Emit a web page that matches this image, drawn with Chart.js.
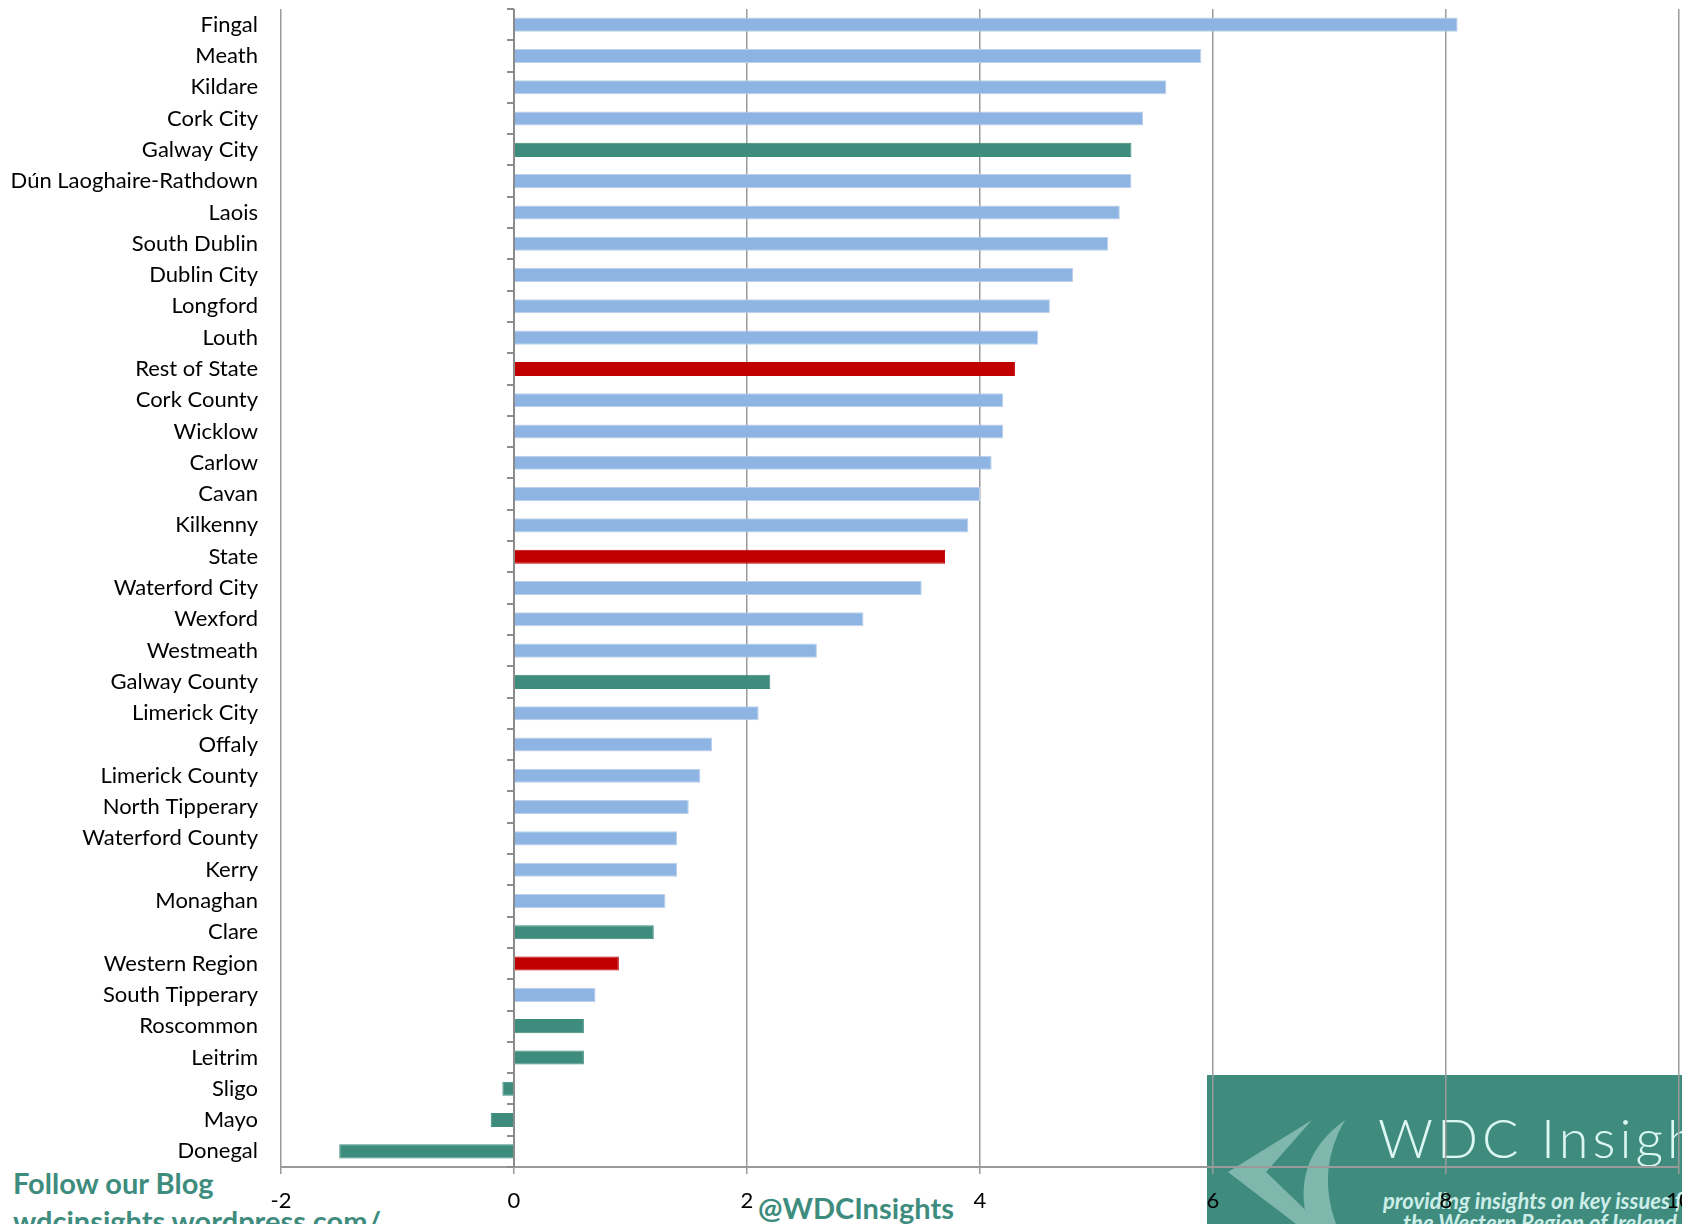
<!DOCTYPE html>
<html>
<head>
<meta charset="utf-8">
<script src="https://cdn.jsdelivr.net/npm/chart.js@4"></script>
<style>
  html, body { margin: 0; padding: 0; background: #fff; }
  #wrap { position: relative; width: 1682px; height: 1224px; overflow: hidden; font-family: Lato, sans-serif; }
  #logo { position: absolute; left: 0; top: 0; z-index: 0; }
  #chartBox { position: absolute; left: 0; top: 0; width: 1682px; height: 1224px; z-index: 1; }
  .txt { position: absolute; white-space: nowrap; }
  .teal { color: #3e8c7e; font-weight: bold; font-size: 29px; }
  .logoTitle { left: 1378px; top: 1105px; font-size: 54px; font-weight: 300; color: #dcf6f2; letter-spacing: 4px; z-index: 0; }
  .logoSub { font-size: 22px; font-style: italic; font-weight: bold; color: #cdeee8; z-index: 0; }
</style>
</head>
<body>
<div id="wrap">
  <svg id="logo" width="1682" height="1224">
    <rect x="1207" y="1075" width="475" height="149" fill="#3f8c7f"/>
    <path d="M1312,1120 L1228,1172 L1296,1224 L1320,1224 L1266,1172 Z" fill="#80b7ad"/>
    <path d="M1345,1120 Q1290,1160 1308,1224 L1336,1224 Q1316,1170 1345,1120 Z" fill="#80b7ad"/>
  </svg>
  <div class="txt logoTitle">WDC Insights</div>
  <div class="txt logoSub" style="left:1383px; top:1187px;">providing insights on key issues for</div>
  <div class="txt logoSub" style="left:1403px; top:1209px;">the Western Region of Ireland</div>
  <div id="chartBox"><canvas id="myChart"></canvas></div>
  <div class="txt teal" style="left:13px; top:1165px;">Follow our Blog</div>
  <div class="txt teal" style="left:13px; top:1203px;">wdcinsights.wordpress.com/</div>
  <div class="txt teal" style="left:758px; top:1190px;">@WDCInsights</div>
</div>
<script>
// counties / regions, top to bottom
const counties = ["Fingal", "Meath", "Kildare", "Cork City", "Galway City", "Dún Laoghaire-Rathdown",
  "Laois", "South Dublin", "Dublin City", "Longford", "Louth", "Rest of State", "Cork County",
  "Wicklow", "Carlow", "Cavan", "Kilkenny", "State", "Waterford City", "Wexford", "Westmeath",
  "Galway County", "Limerick City", "Offaly", "Limerick County", "North Tipperary",
  "Waterford County", "Kerry", "Monaghan", "Clare", "Western Region", "South Tipperary",
  "Roscommon", "Leitrim", "Sligo", "Mayo", "Donegal"]

// % change values
const change = [8.1, 5.9, 5.6, 5.4, 5.3, 5.3,
  5.2, 5.1, 4.8, 4.6, 4.5, 4.3, 4.2,
  4.2, 4.1, 4.0, 3.9, 3.7, 3.5, 3.0, 2.6,
  2.2, 2.1, 1.7, 1.6, 1.5,
  1.4, 1.4, 1.3, 1.2, 0.9, 0.7,
  0.6, 0.6, -0.1, -0.2, -1.5]

// groupings used for the bar colours
const westernCounties = ["Galway City", "Galway County", "Clare", "Roscommon", "Leitrim", "Sligo", "Mayo", "Donegal"]
const aggregates = ["Rest of State", "State", "Western Region"]

// x axis
const xMin = -2
const xMax = 10
const xStep = 2

const barColor = (name) => {
  if (aggregates.includes(name)) return "#c00000"
  if (westernCounties.includes(name)) return "#3e8c7e"
  return "#8eb4e3"
}
const edgeColor = (name) => {
  if (aggregates.includes(name)) return "#c00000"
  if (westernCounties.includes(name)) return "#3e8c7e"
  return "#bcd0ea"
}

// zero axis with small tick marks between categories
const zeroAxis = {
  id: "zeroAxis",
  afterDatasetsDraw(chart) {
    const ctx = chart.ctx
    const xs = chart.scales.x
    const ys = chart.scales.y
    const x0 = xs.getPixelForValue(0)
    ctx.save()
    ctx.strokeStyle = "#8c8c8c"
    ctx.lineWidth = 2
    ctx.beginPath()
    ctx.moveTo(x0, chart.chartArea.top)
    ctx.lineTo(x0, chart.chartArea.bottom)
    for (let i = 0; i <= counties.length; i++) {
      const y = Math.round(ys.getPixelForValue(i - 0.5))
      ctx.moveTo(x0, y)
      ctx.lineTo(x0 - 7, y)
    }
    ctx.stroke()
    ctx.restore()
  }
}

const noPad = (scale) => {
  scale.paddingLeft = 0
  scale.paddingRight = 0
  scale.paddingTop = 0
  scale.paddingBottom = 0
}

document.addEventListener("DOMContentLoaded", function(){
  const ctx = document.getElementById("myChart").getContext("2d")
  new Chart(ctx, {
    type: "bar",
    data: {
      labels: counties,
      datasets: [{
        data: change,
        backgroundColor: counties.map(barColor),
        borderColor: counties.map(edgeColor),
        borderWidth: 1,
        categoryPercentage: 1,
        barPercentage: 0.45
      }]
    },
    options: {
      indexAxis: "y",
      responsive: true,
      maintainAspectRatio: false,
      animation: false,
      layout: { padding: { left: 0, right: 3, top: 9, bottom: 0 } },
      plugins: { legend: { display: false }, tooltip: { enabled: false } },
      scales: {
        x: {
          min: xMin,
          max: xMax,
          ticks: { stepSize: xStep, color: "#000", padding: 14, font: { family: "Lato", size: 22 } },
          grid: { color: "#9a9a9a", lineWidth: 1.5, drawTicks: true, tickLength: 7 },
          border: { color: "#9a9a9a", width: 2 },
          afterFit(scale) { scale.height = 57; noPad(scale) }
        },
        y: {
          ticks: { color: "#000", padding: 23, autoSkip: false, font: { family: "Lato", size: 22 } },
          grid: { display: false, drawTicks: false },
          border: { display: false },
          afterFit(scale) { scale.width = 281; noPad(scale) }
        }
      }
    },
    plugins: [zeroAxis]
  })
})
</script>
</body>
</html>
